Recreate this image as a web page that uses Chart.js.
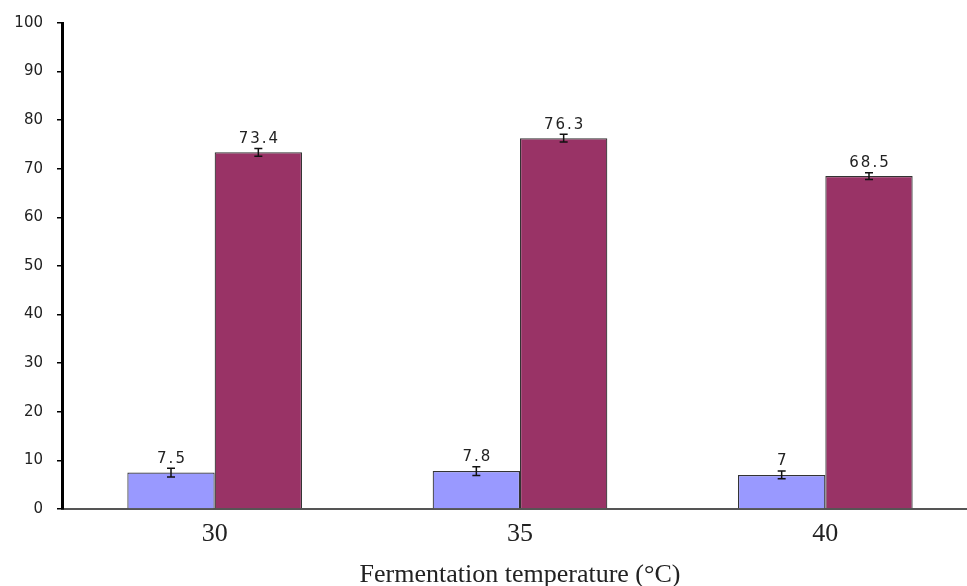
<!DOCTYPE html>
<html>
<head>
<meta charset="utf-8">
<script src="https://cdn.jsdelivr.net/npm/chart.js@4"></script>
<style>
  html, body { margin: 0; padding: 0; background: #fff; overflow: hidden; }
  #wrap { width: 967px; height: 586px; overflow: hidden; }
  #box { width: 978px; height: 592px; }
</style>
</head>
<body>
<div id="wrap"><div id="box"><canvas id="chart"></canvas></div></div>
<script>
// ===== data =====
const temps = ['30', '35', '40'];
const seriesA = [7.5, 7.8, 7];
const seriesB = [73.4, 76.3, 68.5];
const errA = [0.9, 0.9, 0.8];
const errB = [0.8, 0.8, 0.7];
const yTicks = [0, 10, 20, 30, 40, 50, 60, 70, 80, 90, 100];

// error bars + value labels drawn on top of each bar
const barExtras = {
  id: 'barExtras',
  afterDatasetsDraw(chart) {
    const { ctx } = chart;
    const yScale = chart.scales.y;
    chart.data.datasets.forEach((ds, i) => {
      const meta = chart.getDatasetMeta(i);
      meta.data.forEach((bar, j) => {
        const v = ds.data[j];
        const e = ds.errors[j];
        const yHi = yScale.getPixelForValue(v + e);
        const yLo = yScale.getPixelForValue(v - e);
        ctx.save();
        ctx.strokeStyle = '#111';
        ctx.lineWidth = 1.5;
        ctx.beginPath();
        ctx.moveTo(bar.x, yHi);
        ctx.lineTo(bar.x, yLo);
        ctx.moveTo(bar.x - 4, yHi);
        ctx.lineTo(bar.x + 4, yHi);
        ctx.moveTo(bar.x - 4, yLo);
        ctx.lineTo(bar.x + 4, yLo);
        ctx.stroke();

        ctx.fillStyle = '#222';
        ctx.font = '15px "DejaVu Sans"';
        ctx.letterSpacing = '2px';
        ctx.textAlign = 'center';
        ctx.textBaseline = 'bottom';
        ctx.fillText(String(v), bar.x + 1, yHi - 2);
        ctx.restore();
      });
    });
  }
};

new Chart(document.getElementById('chart'), {
  type: 'bar',
  data: {
    labels: temps,
    datasets: [
      {
        data: seriesA,
        errors: errA,
        backgroundColor: '#9999FF',
        borderColor: '#333',
        borderWidth: 1.2
      },
      {
        data: seriesB,
        errors: errB,
        backgroundColor: '#993366',
        borderColor: '#333',
        borderWidth: 1.2
      }
    ]
  },
  options: {
    responsive: true,
    maintainAspectRatio: false,
    animation: false,
    categoryPercentage: 0.572,
    barPercentage: 1,
    layout: { padding: { top: 22, right: 0, bottom: 0, left: 0 } },
    plugins: { legend: { display: false }, tooltip: { enabled: false } },
    scales: {
      x: {
        afterFit(scale) { scale.height = 83; },
        grid: { display: false },
        border: { color: '#555', width: 2 },
        ticks: {
          color: '#222',
          padding: 2,
          font: { family: '"Liberation Serif", serif', size: 26 }
        },
        title: {
          display: true,
          text: 'Fermentation temperature (°C)',
          color: '#222',
          padding: { top: 0, bottom: 1 },
          font: { family: '"Liberation Serif", serif', size: 26 }
        }
      },
      y: {
        min: 0,
        max: 100,
        afterFit(scale) { scale.width = 62; },
        afterBuildTicks(scale) { scale.ticks = yTicks.map(v => ({ value: v })); },
        grid: { drawOnChartArea: false, color: '#000', tickLength: 5, lineWidth: 1.5 },
        border: { color: '#000', width: 3 },
        ticks: {
          color: '#222',
          padding: 14,
          font: { family: '"DejaVu Sans"', size: 15 }
        }
      }
    }
  },
  plugins: [barExtras]
});
</script>
</body>
</html>
